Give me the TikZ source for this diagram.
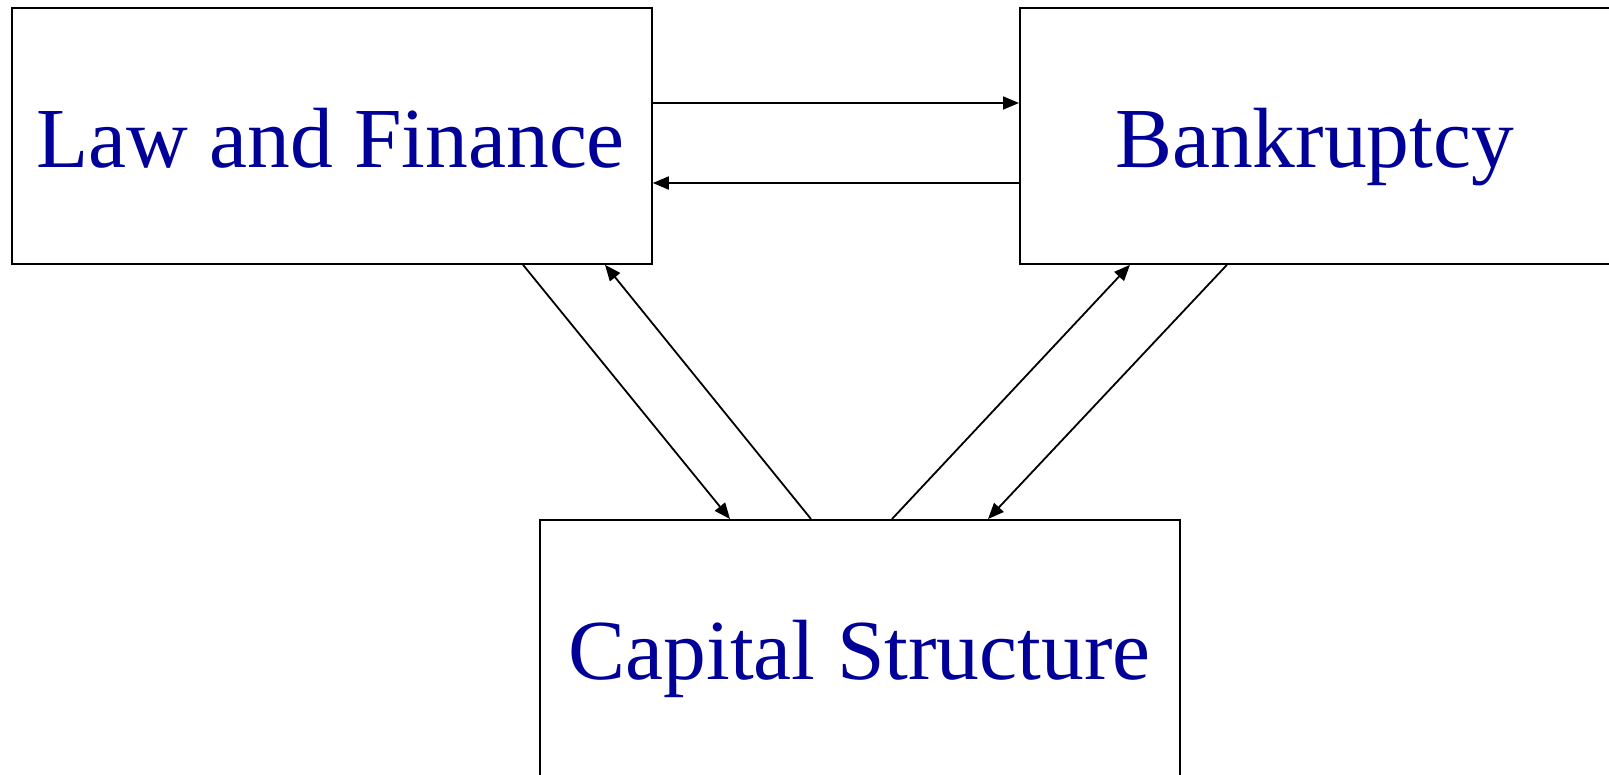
\documentclass[tikz,border=0pt]{standalone}
\usepackage{fontspec}
\setmainfont{Liberation Serif}
\usetikzlibrary{arrows.meta}
\definecolor{navy}{RGB}{0,0,153}
\begin{document}
\begin{tikzpicture}[x=1pt,y=-1pt,
  box/.style={draw=black,line width=1.8pt,minimum width=640pt,minimum height=256pt,inner sep=0pt,anchor=north west},
  lbl/.style={text=navy,font=\fontsize{85.5}{90}\selectfont,anchor=base,inner sep=0pt},
  conn/.style={line width=1.8pt,-{Triangle[length=16pt,width=13pt]}}]
\useasboundingbox (0,0) rectangle (1609,774);
\clip (0,0) rectangle (1609,774);
\node[box] (law) at (11,7) {};
\node[box] (bank) at (1019,7) {};
\node[box,minimum height=300pt] (cap) at (539,519) {};
\node[lbl] (lawtxt) at (330.5,167) {Law and Finance};
\node[lbl] (banktxt) at (1314.5,167) {Bankruptcy};
\node[lbl] (captxt) at (859.5,679) {Capital Structure};
\draw[conn] ([yshift=-96pt]law.north east) -- ([yshift=-96pt]bank.north west);
\draw[conn] ([yshift=-176pt]bank.north west) -- ([yshift=-176pt]law.north east);
\draw[conn] ([xshift=512pt]law.south west) -- ([xshift=191pt]cap.north west);
\draw[conn] ([xshift=272pt]cap.north west) -- ([xshift=594pt]law.south west);
\draw[conn] ([xshift=353pt]cap.north west) -- ([xshift=111pt]bank.south west);
\draw[conn] ([xshift=208pt]bank.south west) -- ([xshift=449pt]cap.north west);
\end{tikzpicture}
\end{document}
